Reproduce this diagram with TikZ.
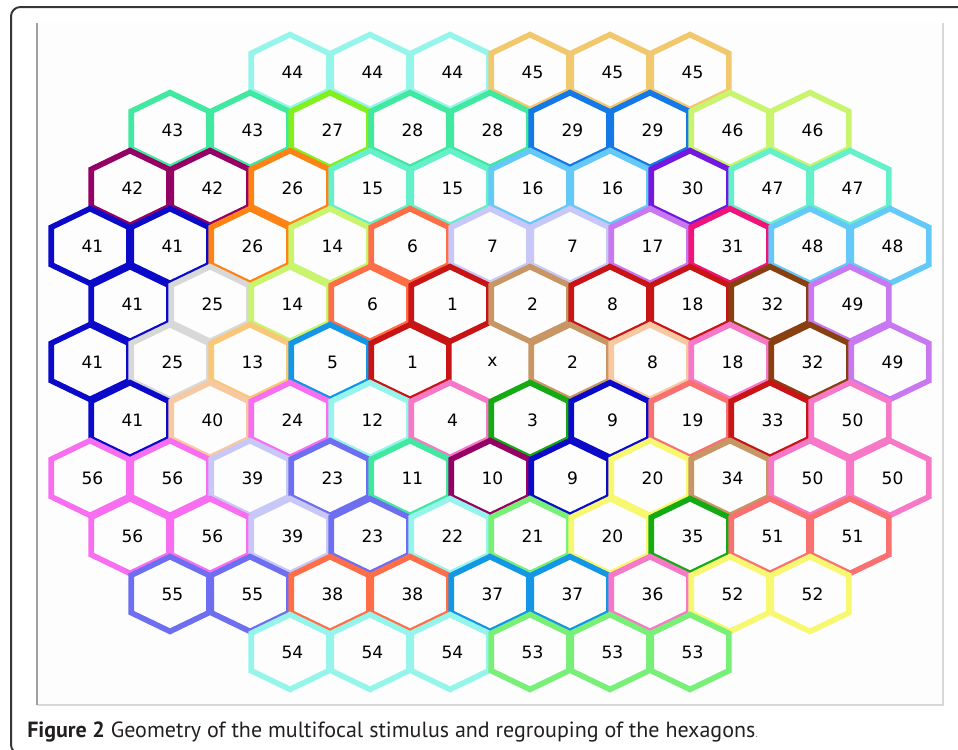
\documentclass[tikz,border=0pt]{standalone}
\usepackage{fontspec}
\usepackage{xcolor}
\usepackage{tikz}
\newfontfamily\hxNumFont{DejaVu Sans}
\newfontfamily\hxCapFont{PT Sans}
\newcommand{\figbody}{\hxNumFont\fontsize{12.8}{14}\selectfont}
\newcommand{\figcap}{\hxCapFont\fontsize{16.5}{19}\selectfont}
\definecolor{hxInk}{RGB}{35,31,32}
\definecolor{hxPaper}{RGB}{253,253,253}
\definecolor{hxRuleDark}{RGB}{160,160,160}
\definecolor{hxRuleLight}{RGB}{216,216,216}
\definecolor{hxPaleCyan}{RGB}{150,245,235}
\definecolor{hxGold}{RGB}{242,200,110}
\definecolor{hxSea}{RGB}{64,232,160}
\definecolor{hxLime}{RGB}{130,240,30}
\definecolor{hxAzure}{RGB}{20,120,230}
\definecolor{hxYellowGreen}{RGB}{200,244,110}
\definecolor{hxPlum}{RGB}{148,0,100}
\definecolor{hxOrange}{RGB}{255,130,20}
\definecolor{hxAqua}{RGB}{100,240,200}
\definecolor{hxSky}{RGB}{100,200,248}
\definecolor{hxViolet}{RGB}{116,24,224}
\definecolor{hxNavy}{RGB}{10,10,200}
\definecolor{hxTomato}{RGB}{255,110,70}
\definecolor{hxLavender}{RGB}{200,200,248}
\definecolor{hxOrchid}{RGB}{200,120,240}
\definecolor{hxRose}{RGB}{240,20,122}
\definecolor{hxSilver}{RGB}{216,216,216}
\definecolor{hxCrimson}{RGB}{200,20,20}
\definecolor{hxTan}{RGB}{200,150,100}
\definecolor{hxBrown}{RGB}{136,64,16}
\definecolor{hxApricot}{RGB}{248,200,120}
\definecolor{hxCerulean}{RGB}{20,150,230}
\definecolor{hxPeach}{RGB}{248,200,160}
\definecolor{hxPink}{RGB}{248,120,200}
\definecolor{hxMagenta}{RGB}{248,110,240}
\definecolor{hxGreen}{RGB}{20,170,20}
\definecolor{hxSalmon}{RGB}{248,112,112}
\definecolor{hxSlate}{RGB}{110,110,240}
\definecolor{hxYellow}{RGB}{248,248,112}
\definecolor{hxMint}{RGB}{120,240,120}
\tikzset{
  hxEdge/.style={line width=4.2pt, line join=miter},
  hxNum/.style={font=\figbody, text=black, inner sep=0pt},
  hxFrame/.style={draw=hxInk!90, line width=1.5pt, rounded corners=7pt},
  hxCaption/.style={font=\figcap, text=hxInk, inner sep=0pt, anchor=base west}
}
% one stimulus cell: name, centre x, centre y, colour, label
\newcommand{\hexcell}[5]{%
  \draw[hxEdge, draw=#4, shift={(#2,#3)}] (0,-37.4) -- (38.8,-18.7) -- (38.8,18.7)
    -- (0,37.4) -- (-38.8,18.7) -- (-38.8,-18.7) -- cycle;
  \node[hxNum] (#1) at (#2+2.5,#3) {#5};}
\begin{document}
\begin{tikzpicture}[x=0.75pt,y=-0.75pt]
\useasboundingbox (0,0) rectangle (958,750);
\draw[hxFrame] (11,7) rectangle (990,754);
\fill[hxPaper] (37,23) rectangle (943,705);
\draw[draw=hxRuleLight, line width=2pt] (37,705) -- (943,705) -- (943,23);
\draw[draw=hxRuleDark, line width=1.5pt] (37,23) -- (37,705);
% rows of hexagons, top to bottom
\foreach \cx/\num/\col [count=\i] in {290/44/hxPaleCyan, 370/44/hxPaleCyan, 450/44/hxPaleCyan,
  530/45/hxGold, 610/45/hxGold, 690/45/hxGold}
  {\hexcell{r1-\i}{\cx}{72}{\col}{\num}}
\foreach \cx/\num/\col [count=\i] in {170/43/hxSea, 250/43/hxSea, 330/27/hxLime, 410/28/hxSea,
  490/28/hxSea, 570/29/hxAzure, 650/29/hxAzure, 730/46/hxYellowGreen, 810/46/hxYellowGreen}
  {\hexcell{r2-\i}{\cx}{130}{\col}{\num}}
\foreach \cx/\num/\col [count=\i] in {130/42/hxPlum, 210/42/hxPlum, 290/26/hxOrange, 370/15/hxAqua,
  450/15/hxAqua, 530/16/hxSky, 610/16/hxSky, 690/30/hxViolet, 770/47/hxAqua, 850/47/hxAqua}
  {\hexcell{r3-\i}{\cx}{188}{\col}{\num}}
\foreach \cx/\num/\col [count=\i] in {90/41/hxNavy, 170/41/hxNavy, 250/26/hxOrange, 330/14/hxYellowGreen,
  410/6/hxTomato, 490/7/hxLavender, 570/7/hxLavender, 650/17/hxOrchid, 730/31/hxRose,
  810/48/hxSky, 890/48/hxSky}
  {\hexcell{r4-\i}{\cx}{246}{\col}{\num}}
\foreach \cx/\num/\col [count=\i] in {130/41/hxNavy, 210/25/hxSilver, 290/14/hxYellowGreen, 370/6/hxTomato,
  450/1/hxCrimson, 530/2/hxTan, 610/8/hxCrimson, 690/18/hxCrimson, 770/32/hxBrown, 850/49/hxOrchid}
  {\hexcell{r5-\i}{\cx}{304}{\col}{\num}}
\foreach \cx/\num/\col [count=\i] in {90/41/hxNavy, 170/25/hxSilver, 250/13/hxApricot, 330/5/hxCerulean,
  410/1/hxCrimson, 490/x/none, 570/2/hxTan, 650/8/hxPeach, 730/18/hxPink, 810/32/hxBrown, 890/49/hxOrchid}
  {\hexcell{r6-\i}{\cx}{362}{\col}{\num}}
\foreach \cx/\num/\col [count=\i] in {130/41/hxNavy, 210/40/hxPeach, 290/24/hxMagenta, 370/12/hxPaleCyan,
  450/4/hxPink, 530/3/hxGreen, 610/9/hxNavy, 690/19/hxSalmon, 770/33/hxCrimson, 850/50/hxPink}
  {\hexcell{r7-\i}{\cx}{420}{\col}{\num}}
\foreach \cx/\num/\col [count=\i] in {90/56/hxMagenta, 170/56/hxMagenta, 250/39/hxLavender, 330/23/hxSlate,
  410/11/hxSea, 490/10/hxPlum, 570/9/hxNavy, 650/20/hxYellow, 730/34/hxTan, 810/50/hxPink, 890/50/hxPink}
  {\hexcell{r8-\i}{\cx}{478}{\col}{\num}}
\foreach \cx/\num/\col [count=\i] in {130/56/hxMagenta, 210/56/hxMagenta, 290/39/hxLavender, 370/23/hxSlate,
  450/22/hxPaleCyan, 530/21/hxMint, 610/20/hxYellow, 690/35/hxGreen, 770/51/hxSalmon, 850/51/hxSalmon}
  {\hexcell{r9-\i}{\cx}{536}{\col}{\num}}
\foreach \cx/\num/\col [count=\i] in {170/55/hxSlate, 250/55/hxSlate, 330/38/hxTomato, 410/38/hxTomato,
  490/37/hxCerulean, 570/37/hxCerulean, 650/36/hxPink, 730/52/hxYellow, 810/52/hxYellow}
  {\hexcell{r10-\i}{\cx}{594}{\col}{\num}}
\foreach \cx/\num/\col [count=\i] in {290/54/hxPaleCyan, 370/54/hxPaleCyan, 450/54/hxPaleCyan,
  530/53/hxMint, 610/53/hxMint, 690/53/hxMint}
  {\hexcell{r11-\i}{\cx}{652}{\col}{\num}}
\node[hxCaption] (caption) at (27,737) {{\bfseries Figure 2} Geometry of the multifocal stimulus and regrouping of the hexagons{\color{gray}\fontsize{9}{10}\selectfont.}};
\end{tikzpicture}
\end{document}
